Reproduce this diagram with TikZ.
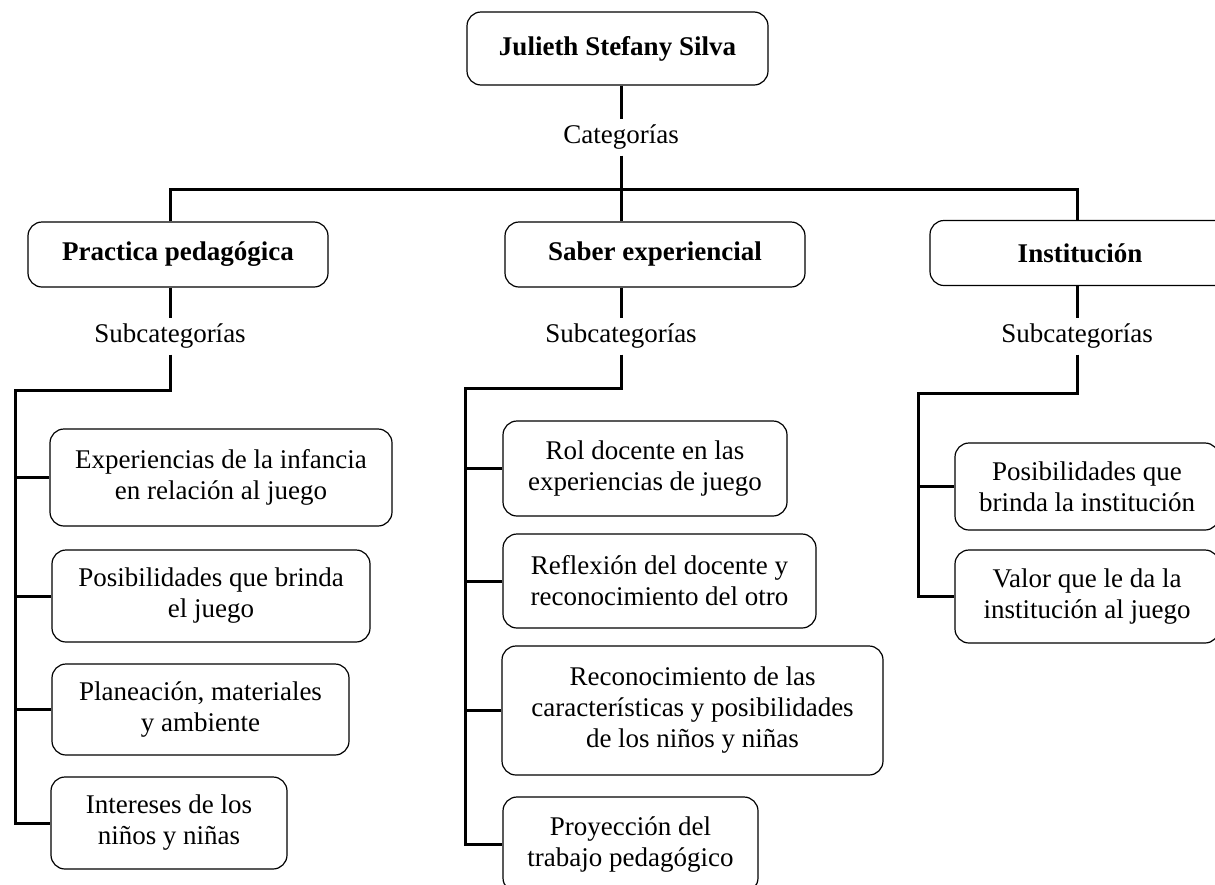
\documentclass[tikz,border=0pt]{standalone}
\usepackage{fontspec}
\setmainfont{Liberation Serif}
\begin{document}
\begin{tikzpicture}[x=1pt, y=-1pt,
  rbox/.style={draw, line width=1.2pt, rounded corners=14pt, align=center, inner sep=0pt, font=\fontsize{27}{31}\selectfont},
  hbox/.style={rbox, font=\fontsize{27}{31}\selectfont\bfseries},
  lbl/.style={font=\fontsize{27}{31}\selectfont, inner xsep=4pt, inner ysep=6pt},
  link/.style={line width=3pt}]
\useasboundingbox (0,0) rectangle (1215,884);
\clip (0,0) rectangle (1215,884);
\node[hbox, minimum width=301pt, minimum height=73pt] (root) at (617.5,48.5){Julieth Stefany Silva};
\node[lbl] (cat) at (621,137){Categorías};
\coordinate (hl) at (170,189);
\coordinate (hc) at (621,189);
\coordinate (hr) at (1077,189);
\node[hbox, minimum width=300pt, minimum height=65pt] (cat1) at (178,254.5){Practica pedagógica};
\node[hbox, minimum width=300pt, minimum height=65pt] (cat2) at (655,254.5){Saber experiencial};
\node[hbox, minimum width=300pt, minimum height=65pt] (cat3) at (1080,253){Institución};
\draw[link](cat |- root.south) -- (cat);
\draw[link](cat) -- (hc) -- (hc |- cat2.north);
\draw[link](hl |- cat1.north) -- (hl) -- (hr) -- (hr |- cat3.north);
\node[lbl] (sub1) at (170,336){Subcategorías};
\node[lbl] (sub2) at (621,336){Subcategorías};
\node[lbl] (sub3) at (1077,336){Subcategorías};
\draw[link](hl |- cat1.south) -- (sub1);
\draw[link](hc |- cat2.south) -- (sub2);
\draw[link](hr |- cat3.south) -- (sub3);
% practica pedagogica
\coordinate (v1) at (15,390);
\node[rbox, minimum width=342pt, minimum height=97pt] (l1) at (221,477.5){Experiencias de la infancia\\en relación al juego};
\node[rbox, minimum width=318pt, minimum height=92pt] (l2) at (211,596){Posibilidades que brinda\\el juego};
\node[rbox, minimum width=297pt, minimum height=91pt] (l3) at (200.5,709.5){Planeación, materiales\\y ambiente};
\node[rbox, minimum width=236pt, minimum height=92pt] (l4) at (169,823){Intereses de los\\niños y niñas};
\draw[link](sub1) |- (v1) |- (l4.west);
\draw[link](v1 |- l1.west) -- (l1.west);
\draw[link](v1 |- l2.west) -- (l2.west);
\draw[link](v1 |- l3.west) -- (l3.west);
% saber experiencial
\coordinate (v2) at (465,388);
\node[rbox, minimum width=284pt, minimum height=95pt] (m1) at (645,468.5){Rol docente en las\\experiencias de juego};
\node[rbox, minimum width=313pt, minimum height=94pt] (m2) at (659.5,581){Reflexión del docente y\\reconocimiento del otro};
\node[rbox, minimum width=381pt, minimum height=129pt] (m3) at (692.5,710.5){Reconocimiento de las\\características y posibilidades\\de los niños y niñas};
\node[rbox, minimum width=255pt, minimum height=95pt] (m4) at (630.5,844.5){Proyección del\\trabajo pedagógico};
\draw[link](sub2) |- (v2) |- (m4.west);
\draw[link](v2 |- m1.west) -- (m1.west);
\draw[link](v2 |- m2.west) -- (m2.west);
\draw[link](v2 |- m3.west) -- (m3.west);
% institucion
\coordinate (v3) at (918,393);
\node[rbox, minimum width=264pt, minimum height=87pt] (r1) at (1087,486.5){Posibilidades que\\brinda la institución};
\node[rbox, minimum width=264pt, minimum height=93pt] (r2) at (1087,596.5){Valor que le da la\\institución al juego};
\draw[link](sub3) |- (v3) |- (r2.west);
\draw[link](v3 |- r1.west) -- (r1.west);
\end{tikzpicture}
\end{document}
